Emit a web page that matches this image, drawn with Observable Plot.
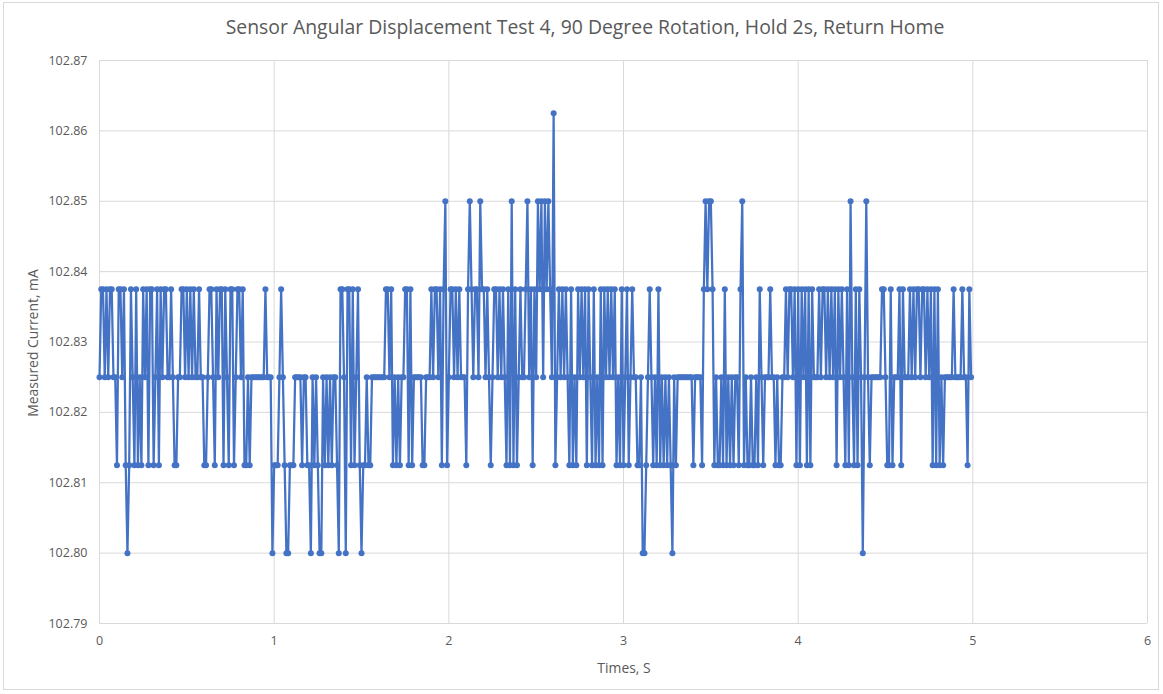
<!DOCTYPE html>
<html>
<head>
<meta charset="utf-8">
<script src="https://cdn.jsdelivr.net/npm/d3@7"></script>
<script src="https://cdn.jsdelivr.net/npm/@observablehq/plot@0.6"></script>
<style>
  html, body { margin: 0; padding: 0; background: #fff; }
  #wrap { position: relative; width: 1163px; height: 694px; overflow: hidden; }
  #border { position: absolute; left: 3px; top: 2px; width: 1156px; height: 688px; border: 1px solid #d9d9d9; box-sizing: border-box; pointer-events: none; }
  #chart { position: absolute; left: 0; top: 0; }
</style>
</head>
<body>
<div id="wrap"><div id="chart"></div><div id="border"></div></div>
<script>
// ---- data ----
const chartTitle = "Sensor Angular Displacement Test 4, 90 Degree Rotation, Hold 2s, Return Home";
const xTitle = "Times, S";
const yTitle = "Measured Current, mA";
const xTicks = [0, 1, 2, 3, 4, 5, 6];
const yTicks = [102.79, 102.80, 102.81, 102.82, 102.83, 102.84, 102.85, 102.86, 102.87];
// quantised current levels of the sensor (mA)
const levels = [102.8000, 102.8125, 102.8250, 102.8375, 102.8500, 102.8625];
const sampleInterval = 0.01; // s
// level index of each sample, in blocks of 0.1 s
const readings = [
  2,3,3,2,3,2,3,3,2,2,  1,3,3,2,3,1,0,1,3,2,  1,3,1,2,1,3,2,3,1,3,  3,1,2,3,1,3,2,3,3,2,
  2,3,2,1,1,2,2,3,3,2,  3,2,3,2,3,2,2,3,2,2,  1,1,2,3,3,2,1,3,2,3,  3,1,3,2,1,3,3,1,2,3,
  3,2,3,1,1,2,1,2,2,2,  2,2,2,2,2,3,2,2,2,0,  1,1,1,2,3,2,1,0,0,1,  1,1,2,2,2,2,1,2,2,1,
  1,0,2,1,2,1,0,0,2,1,  2,1,2,1,2,2,1,0,3,3,  2,0,3,3,1,3,1,2,3,1,  0,1,1,2,1,1,2,2,2,2,
  2,2,2,2,3,3,2,3,1,2,  1,2,1,2,2,3,3,1,3,1,  2,2,2,2,2,1,1,2,2,2,  3,2,3,3,2,3,1,3,4,1,
  2,3,3,2,3,2,3,2,2,2,  1,3,4,3,2,3,3,2,4,3,  3,2,3,2,1,2,3,3,2,3,  2,3,2,1,3,1,4,1,3,1,
  2,3,2,2,3,4,2,3,1,3,  2,4,3,4,2,4,3,4,3,2,  5,1,2,3,2,3,2,3,2,1,  3,1,2,1,3,2,3,2,3,1,
  3,2,1,3,1,2,1,3,1,3,  2,3,2,3,2,3,1,2,1,3,  1,2,3,1,2,3,2,2,1,1,  2,0,0,1,2,3,2,1,2,1,
  3,1,2,1,2,1,2,1,0,2,  1,2,2,2,2,2,2,2,2,2,  1,2,2,2,2,1,3,4,3,4,  4,3,1,2,1,1,2,1,3,1,
  2,1,2,1,2,2,1,3,4,1,  2,1,1,2,1,1,2,1,3,2,  1,2,2,2,3,2,2,1,2,1,  1,2,2,3,2,3,3,2,3,1,
  3,1,3,2,3,1,3,1,3,2,  2,2,3,2,3,3,2,3,2,3,  2,3,1,3,2,3,2,1,3,1,  4,2,1,3,1,3,2,0,2,4,
  2,1,2,2,2,2,2,2,3,3,  2,1,1,3,1,2,2,2,3,1,  3,2,2,2,3,2,3,2,3,3,  2,3,3,2,3,2,3,1,3,1,
  3,1,2,1,2,2,2,2,2,3,  2,2,2,2,3,2,2,1,3,2
];

const data = readings.map((k, i) => ({ t: +(i * sampleInterval).toFixed(2), mA: levels[k] }));

const W = 1163, H = 694;
const mL = 99, mR = 16, mT = 60, mB = 71;
const blue = "#4472C4";
const grid = "#d9d9d9";
const txt = "#595959";
const font = "'Open Sans', sans-serif";

const plot = Plot.plot({
  width: W,
  height: H,
  marginLeft: mL,
  marginRight: mR,
  marginTop: mT,
  marginBottom: mB,
  style: { fontFamily: font, fontSize: "12.5px", color: txt, background: "transparent", overflow: "visible" },
  x: { domain: [0, 6], ticks: xTicks },
  y: { domain: [102.79, 102.87], ticks: yTicks },
  marks: [
    Plot.gridY(yTicks, { stroke: grid, strokeOpacity: 1, strokeWidth: 1 }),
    Plot.gridX(xTicks, { stroke: grid, strokeOpacity: 1, strokeWidth: 1 }),
    Plot.axisY(yTicks, { tickSize: 0, tickPadding: 12, tickFormat: d => d.toFixed(2), label: null, fill: txt, fontSize: 12.5 }),
    Plot.axisX(xTicks, { tickSize: 0, tickPadding: 13, tickFormat: d => String(d), label: null, fill: txt, fontSize: 12.5 }),
    Plot.line(data, { x: "t", y: "mA", stroke: blue, strokeWidth: 2.25, strokeLinejoin: "round" }),
    Plot.dot(data, { x: "t", y: "mA", r: 3, fill: blue, stroke: "none" })
  ]
});

const svg = d3.select(plot);
svg.append("text")
  .attr("x", 585).attr("y", 29)
  .attr("text-anchor", "middle").attr("dominant-baseline", "middle")
  .attr("fill", txt).attr("font-family", font).attr("font-size", 19.4)
  .text(chartTitle);
svg.append("text")
  .attr("x", 624).attr("y", 669)
  .attr("text-anchor", "middle").attr("dominant-baseline", "middle")
  .attr("fill", txt).attr("font-family", font).attr("font-size", 13.9)
  .text(xTitle);
svg.append("text")
  .attr("transform", "translate(34,343) rotate(-90)")
  .attr("text-anchor", "middle").attr("dominant-baseline", "middle")
  .attr("fill", txt).attr("font-family", font).attr("font-size", 13.9)
  .text(yTitle);

document.getElementById("chart").appendChild(plot);
</script>
</body>
</html>
